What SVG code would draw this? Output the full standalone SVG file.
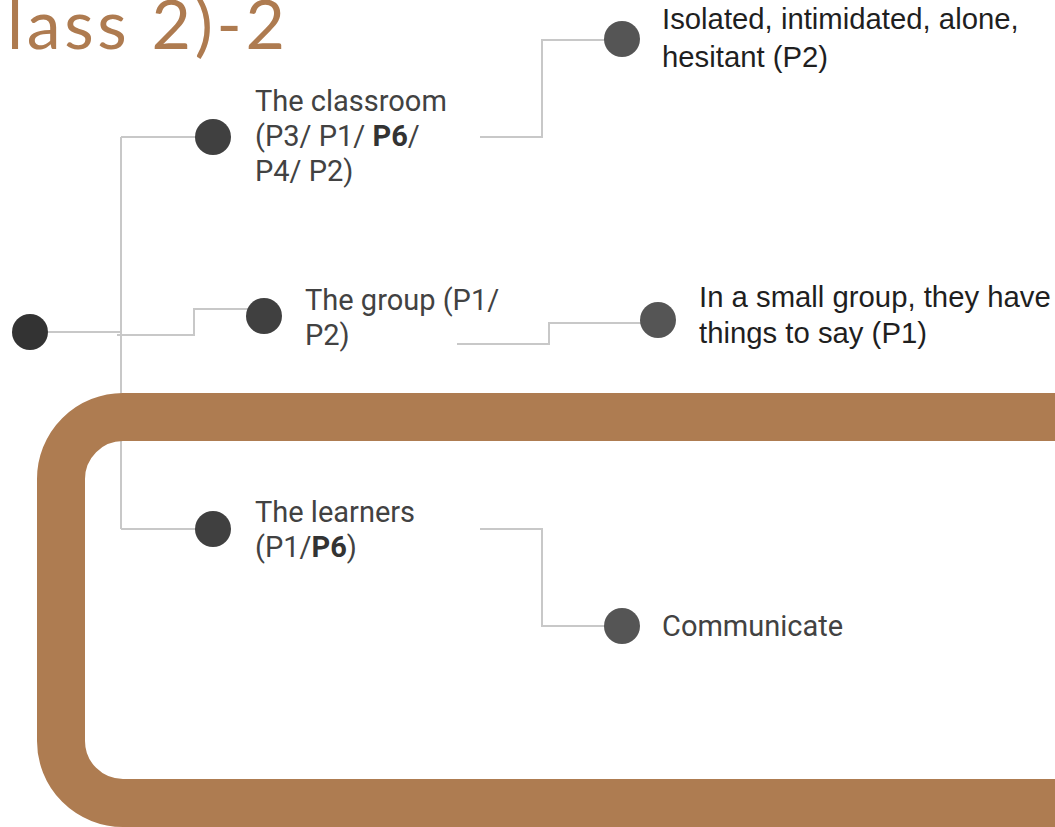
<svg xmlns="http://www.w3.org/2000/svg" width="1055" height="827" viewBox="0 0 1055 827">
<style>
.ln{fill:none;stroke:#c8c8c8;stroke-width:2}
.dk{fill:#404040}
.md{fill:#555555}
.lt{font-family:Roboto,"Liberation Sans",sans-serif;font-size:29px;fill:#424242}
.rt{font-family:"Liberation Sans",Arial,sans-serif;font-size:29.3px;fill:#1f1f1f}
.title{font-family:Lato,"Noto Sans",sans-serif;font-size:68px;fill:#ae7b50}
</style>
<rect width="1055" height="827" fill="#ffffff"/>
<text class="title" x="7" y="49" textLength="278" lengthAdjust="spacing">lass 2)-2</text>
<g id="connectors">
<path class="ln" d="M48,332 H121"/>
<path class="ln" d="M121,137 V529"/>
<path class="ln" d="M121,137 H198"/>
<path class="ln" d="M117,335 H194 V309 H250"/>
<path class="ln" d="M121,529 H198"/>
<path class="ln" d="M480,137 H542 V40 H606"/>
<path class="ln" d="M457,344 H549 V323 H642"/>
<path class="ln" d="M480,529 H542 V626 H606"/>
</g>
<rect id="frame" x="61" y="417" width="1100" height="386" rx="62" ry="62" fill="none" stroke="#ae7c51" stroke-width="48"/>
<g id="root"><circle cx="30" cy="332" r="18" fill="#333333"/></g>
<g id="classroom"><circle class="dk" cx="213" cy="137" r="18"/>
<text class="lt" x="255" y="111">The classroom</text>
<text class="lt" x="255" y="146">(P3/ P1/ <tspan font-weight="bold" fill="#333">P6</tspan>/</text>
<text class="lt" x="255" y="181">P4/ P2)</text></g>
<g id="group"><circle class="dk" cx="264" cy="316" r="18"/>
<text class="lt" x="305" y="310">The group (P1/</text>
<text class="lt" x="305" y="345">P2)</text></g>
<g id="learners"><circle class="dk" cx="213" cy="529" r="18"/>
<text class="lt" x="255" y="522">The learners</text>
<text class="lt" x="255" y="557">(P1/<tspan font-weight="bold" fill="#333">P6</tspan>)</text></g>
<g id="isolated"><circle class="md" cx="622" cy="39" r="18"/>
<text class="rt" x="662" y="29">Isolated, intimidated, alone,</text>
<text class="rt" x="662" y="67">hesitant (P2)</text></g>
<g id="smallgroup"><circle class="md" cx="658" cy="320" r="18"/>
<text class="rt" x="699" y="307">In a small group, they have</text>
<text class="rt" x="699" y="343">things to say (P1)</text></g>
<g id="communicate"><circle class="md" cx="622" cy="626" r="18"/>
<text class="lt" x="662" y="636">Communicate</text></g>
</svg>
